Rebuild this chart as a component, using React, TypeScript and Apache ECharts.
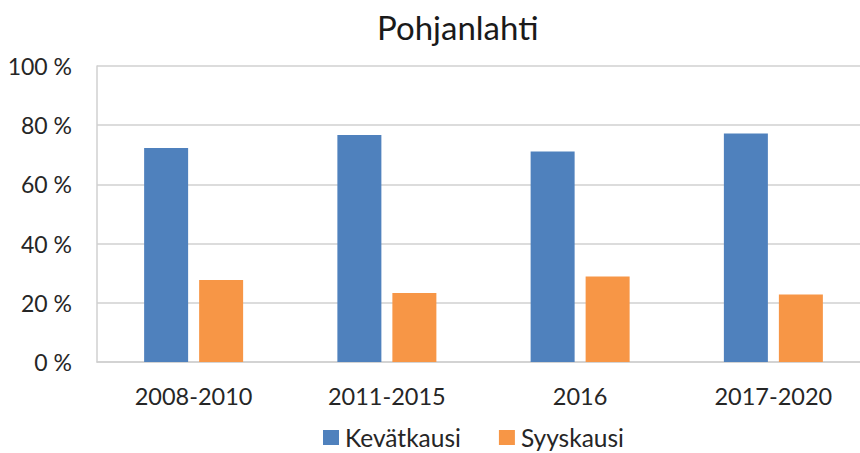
import React, { useEffect, useRef } from "react";
import * as echarts from "echarts";

const categories = ["2008-2010", "2011-2015", "2016", "2017-2020"];
const kevatkausi = [72.3, 76.7, 71.1, 77.2];
const syyskausi = [27.7, 23.3, 28.9, 22.8];
const seriesNames = ["Kevätkausi", "Syyskausi"];
const titleText = "Pohjanlahti";

const FONT = "Lato, 'Liberation Sans', sans-serif";
const TEXT = "#262626";

export default function App() {
  const ref = useRef<HTMLDivElement>(null);
  useEffect(() => {
    if (!ref.current) return;
    const chart = echarts.init(ref.current, undefined, { renderer: "svg" });
    chart.setOption({
      animation: false,
      backgroundColor: "#ffffff",
      textStyle: { fontFamily: FONT },
      title: {
        text: titleText,
        left: 372,
        top: 5,
        textStyle: { fontSize: 33, fontWeight: "normal", color: "#1a1a1a", fontFamily: FONT },
      },
      legend: {
        data: seriesNames,
        left: 323,
        top: 425,
        padding: 0,
        itemWidth: 16,
        itemHeight: 15,
        itemGap: 38,
        icon: "rect",
        textStyle: { fontSize: 24.5, color: TEXT, fontFamily: FONT, padding: [0, 0, 0, 1] },
      },
      grid: { left: 97, top: 66, right: 10, height: 296, containLabel: false },
      xAxis: {
        type: "category",
        data: categories,
        axisLine: { show: true, lineStyle: { color: "#d0d0d0", width: 1.5 } },
        axisTick: { show: false },
        axisLabel: { fontSize: 23.5, color: TEXT, margin: 22, fontFamily: FONT },
      },
      yAxis: {
        type: "value",
        min: 0,
        max: 100,
        interval: 20,
        axisLine: { show: true, lineStyle: { color: "#d0d0d0", width: 1.5 } },
        axisTick: { show: false },
        splitLine: { lineStyle: { color: "#d0d0d0", width: 1.5 } },
        axisLabel: {
          fontSize: 23,
          color: TEXT,
          margin: 25,
          fontFamily: FONT,
          formatter: (v: number) => `${v} %`,
        },
      },
      series: [
        {
          name: seriesNames[0],
          type: "bar",
          data: kevatkausi,
          barWidth: 44,
          barGap: "25%",
          itemStyle: { color: "#4F81BD" },
        },
        {
          name: seriesNames[1],
          type: "bar",
          data: syyskausi,
          barWidth: 44,
          barGap: "25%",
          itemStyle: { color: "#F79646" },
        },
      ],
    });
    return () => chart.dispose();
  }, []);
  return (
    <div style={{ position: "absolute", left: 0, top: 0, width: 860, height: 453, overflow: "hidden", background: "#fff" }}>
      <div ref={ref} style={{ width: 880, height: 453 }} />
    </div>
  );
}
